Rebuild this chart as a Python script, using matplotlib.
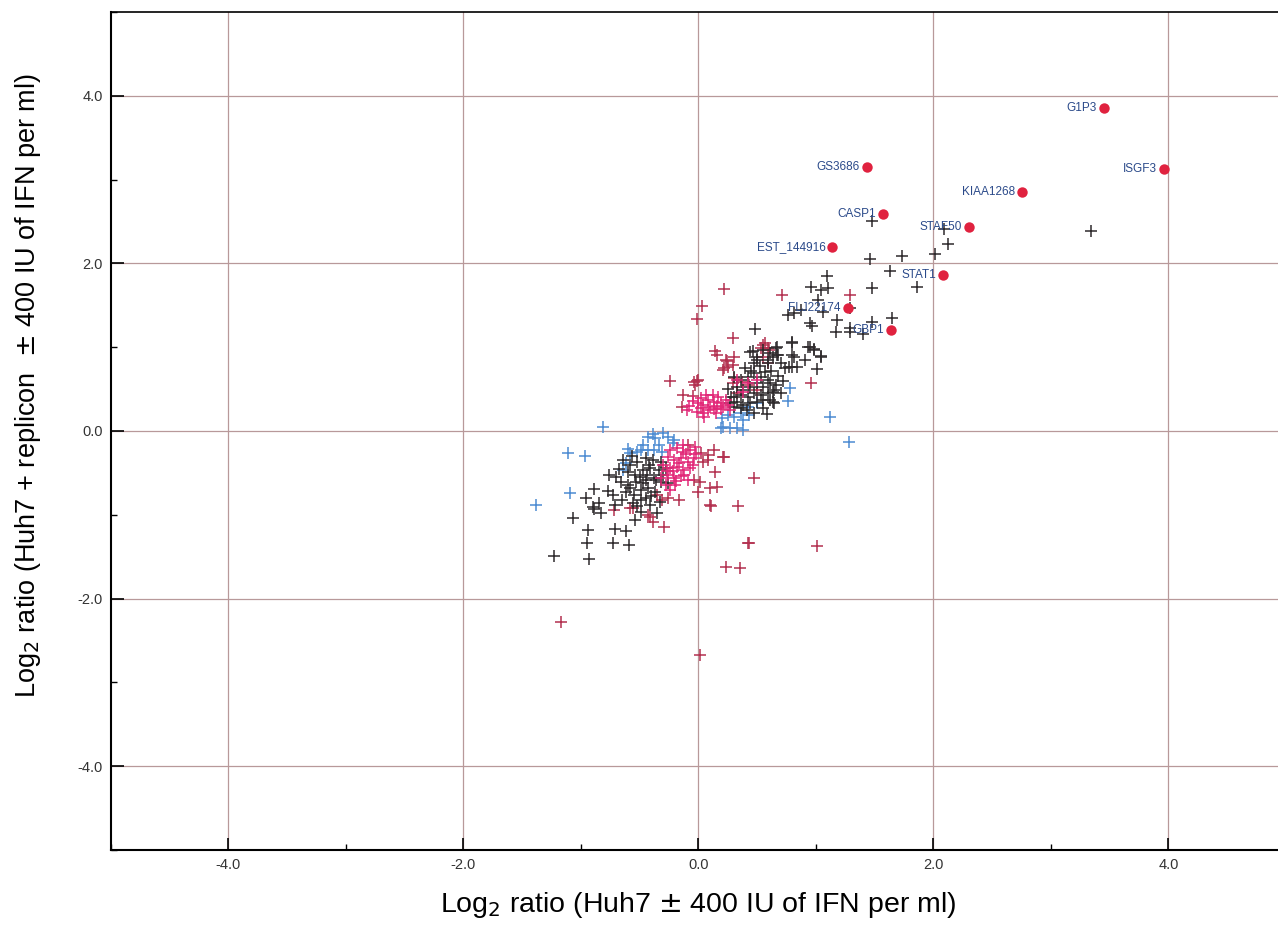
import matplotlib
matplotlib.use('Agg')
import matplotlib.pyplot as plt
from matplotlib.ticker import MultipleLocator

# genes marked with red dots
gene_names = ['G1P3', 'ISGF3', 'GS3686', 'KIAA1268', 'CASP1', 'STAF50',
              'EST_144916', 'STAT1', 'FLJ22174', 'GBP1']
gene_x = [3.45, 3.96, 1.43, 2.75, 1.57, 2.30, 1.14, 2.08, 1.27, 1.64]
gene_y = [3.86, 3.13, 3.15, 2.85, 2.59, 2.44, 2.20, 1.86, 1.47, 1.21]

# black crosses
black_x = [1.48, 2.09, 2.12, 3.34, 1.46, 1.73, 2.01, 1.63, 1.09, 0.96, 1.04, 1.10,
           1.48, 1.86, 1.02, 0.76, 0.81, 0.87, 1.06, 1.29, 1.18, 0.95, 0.97, 1.48,
           1.65, 1.17, 1.29, 1.40, 1.29, 0.48, 0.80, 0.95, 0.98, 1.04, 0.80, 0.68,
           0.46, 0.50, 0.47, 0.59, 0.66, 0.67, 0.70, 0.74, 0.80, 0.81, 0.80,
           0.30, 0.36, 0.42, 0.47, 0.53, 0.59, 0.33, 0.38, 0.44, 0.50, 0.55, 0.61,
           0.30, 0.36, 0.42, 0.47, 0.53, 0.59, 0.63, 0.27, 0.33, 0.38, 0.44, 0.50,
           0.55, 0.63, 0.36, 0.30,
           0.93, 0.98, 1.04, 1.01, 0.91, 0.84, 0.77, 0.67, 0.63,
           0.44, 0.50, 0.55, 0.61, 0.59, 0.64, 0.61, 0.64,
           0.40, 0.45, 0.52, 0.57, 0.62, 0.68, 0.72, 0.66, 0.70, 0.25, 0.28, 0.41,
           0.47, 0.55, 0.58,
           -0.76, -0.89, -0.77, -0.96, -0.85, -0.90, -0.89, -0.83, -1.07,
           -0.94, -0.71, -0.62, -0.95, -0.73, -0.59, -1.23, -0.93,
           -0.64, -0.58, -0.52, -0.45, -0.39, -0.32, -0.60, -0.54, -0.47, -0.41,
           -0.34, -0.28, -0.66, -0.60, -0.53, -0.45, -0.38, -0.32, -0.62, -0.55,
           -0.49, -0.43, -0.37, -0.65, -0.56, -0.49, -0.45, -0.41, -0.35, -0.49,
           -0.54, -0.71, -0.73,
           -0.70, -0.68, -0.57, -0.50, -0.44, -0.36, -0.30, -0.26, -0.40, -0.33,
           -0.58, -0.52, -0.47, -0.42]
black_y = [2.50, 2.41, 2.23, 2.39, 2.05, 2.09, 2.11, 1.91, 1.85, 1.72, 1.68, 1.71,
           1.71, 1.72, 1.56, 1.39, 1.41, 1.44, 1.42, 1.47, 1.33, 1.29, 1.25, 1.30,
           1.35, 1.18, 1.18, 1.16, 1.23, 1.22, 1.05, 1.00, 0.98, 0.90, 0.91, 0.91,
           0.96, 0.85, 0.81, 0.85, 0.99, 0.91, 0.81, 0.75, 0.76, 0.88, 1.06,
           0.64, 0.61, 0.64, 0.69, 0.64, 0.61, 0.53, 0.49, 0.53, 0.57, 0.53, 0.57,
           0.41, 0.43, 0.41, 0.45, 0.43, 0.45, 0.47, 0.33, 0.35, 0.31, 0.33, 0.35,
           0.37, 0.35, 0.27, 0.29,
           1.00, 0.97, 0.88, 0.74, 0.85, 0.76, 0.76, 1.00, 0.88,
           0.94, 0.88, 0.97, 0.93, 0.81, 0.49, 0.37, 0.33,
           0.75, 0.72, 0.78, 0.70, 0.72, 0.66, 0.60, 0.55, 0.45, 0.50, 0.40, 0.25,
           0.22, 0.27, 0.20,
           -0.53, -0.69, -0.72, -0.80, -0.86, -0.91, -0.93, -0.98, -1.04,
           -1.18, -1.17, -1.19, -1.34, -1.34, -1.36, -1.49, -1.53,
           -0.35, -0.41, -0.37, -0.32, -0.35, -0.37, -0.49, -0.53, -0.47, -0.44,
           -0.47, -0.44, -0.61, -0.64, -0.61, -0.59, -0.56, -0.61, -0.73, -0.76,
           -0.70, -0.68, -0.73, -0.82, -0.86, -0.82, -0.80, -0.88, -0.98, -0.97,
           -1.06, -0.88, -0.76,
           -0.55, -0.45, -0.30, -0.55, -0.52, -0.58, -0.52, -0.62, -0.78, -0.85,
           -0.68, -0.90, -0.62, -0.40]

# dark red crosses
darkred_x = [0.71, 1.29, 0.22, 0.03, -0.01, 0.29, 0.96, -0.24, 0.47, 0.34, 0.11,
             0.43, 1.01, -0.29, -0.01, -0.03, -0.13, -0.05, -0.14, 0.14, 0.16,
             0.24, 0.30, 0.22, 0.29, 0.55, 0.59, 0.23, 0.21, 0.25, 0.57, 0.53,
             0.60, 0.55, 0.59, -0.04, 0.00,
             0.30, 0.37, 0.43, 0.50, 0.33, 0.29,
             0.22, 0.14, 0.10, 0.16, 0.10, 0.42, 0.23, 0.35, 0.00, 0.01, -0.04,
             0.08, 0.02, 0.13, -0.17, -0.39, -0.43, -0.56, -0.72, -1.17, 0.01,
             -0.26, -0.31, -0.35, -0.41, 0.04, -0.09, -0.58, 0.21, 0.08]
darkred_y = [1.62, 1.62, 1.70, 1.49, 1.34, 1.11, 0.57, 0.60, -0.56, -0.89, -0.89,
             -1.34, -1.37, -1.15, 0.60, 0.55, 0.43, 0.42, 0.29, 0.96, 0.91,
             0.84, 0.88, 0.75, 0.79, 1.03, 0.99, 0.85, 0.73, 0.76, 1.05, 0.99,
             0.97, 0.88, 0.81, 0.59, 0.61,
             0.63, 0.58, 0.55, 0.49, 0.45, 0.57,
             -0.31, -0.49, -0.68, -0.67, -0.88, -1.34, -1.62, -1.64, -0.73, -0.61,
             -0.59, -0.35, -0.26, -0.23, -0.82, -1.09, -1.00, -0.92, -0.94, -2.28,
             -2.67, -0.80, -0.82, -0.76, -1.03, -0.37, -0.17, -0.92, -0.31, -0.29]

# pink crosses
pink_x = [0.02, 0.08, 0.13, 0.19, 0.04, 0.10, 0.16, 0.21, 0.02, 0.08, 0.13, 0.19,
          0.25, 0.23, 0.17, 0.12, 0.06, 0.04, -0.01, 0.05, 0.33, 0.42, 0.50, 0.38,
          -0.08, -0.05, -0.10, 0.00, 0.15, 0.27,
          -0.24, -0.18, -0.13, -0.07, -0.26, -0.21, -0.15, -0.09, -0.04, -0.30,
          -0.24, -0.18, -0.13, -0.07, -0.26, -0.21, -0.15, -0.09, -0.20, -0.13,
          -0.03, -0.32, -0.28, -0.24,
          -0.11, -0.17, -0.22, -0.05, -0.12, -0.27, -0.19, -0.02]
pink_y = [0.39, 0.37, 0.35, 0.33, 0.31, 0.29, 0.30, 0.29, 0.27, 0.25, 0.26, 0.26,
          0.31, 0.37, 0.41, 0.43, 0.43, 0.21, 0.23, 0.17, 0.61, 0.57, 0.61, 0.47,
          0.30, 0.36, 0.25, 0.33, 0.22, 0.25,
          -0.23, -0.20, -0.25, -0.23, -0.31, -0.35, -0.32, -0.37, -0.32, -0.41,
          -0.44, -0.43, -0.47, -0.44, -0.53, -0.56, -0.54, -0.59, -0.64, -0.17,
          -0.19, -0.56, -0.64, -0.70,
          -0.28, -0.38, -0.48, -0.40, -0.52, -0.48, -0.60, -0.27]

# blue crosses
blue_x = [0.78, 0.76, 1.12, 1.28, -0.81, 0.42, 0.50, 0.36, 0.43, 0.30, 0.38, 0.20,
          0.25, 0.21, 0.27, 0.33, 0.38, 0.19, -1.11, -0.97, -1.09, -1.38,
          -0.39, -0.30, -0.26, -0.21, -0.22, -0.37, -0.43, -0.34, -0.47, -0.49,
          -0.60, -0.58, -0.52, -0.43, -0.38, -0.31, -0.62, -0.64]
blue_y = [0.51, 0.36, 0.17, -0.13, 0.05, 0.29, 0.33, 0.21, 0.19, 0.17, 0.13, 0.16,
          0.19, 0.05, 0.04, 0.04, 0.01, 0.04, -0.26, -0.30, -0.74, -0.88,
          -0.04, -0.02, -0.07, -0.11, -0.14, -0.08, -0.07, -0.17, -0.17, -0.23,
          -0.21, -0.26, -0.25, -0.23, -0.23, -0.25, -0.38, -0.47]

ticks = [-4, -2, 0, 2, 4]
tick_labels = ['-4.0', '-2.0', '0.0', '2.0', '4.0']

fig = plt.figure(figsize=(12.78, 9.36), dpi=100)
ax = fig.add_axes([111 / 1278, 86 / 936, 1175 / 1278, 838 / 936])

cross = dict(marker='+', linestyle='none', markersize=8, markeredgewidth=1.1)
ax.plot(blue_x, blue_y, color='#4d8bd2', **cross)
ax.plot(darkred_x, darkred_y, color='#b3304f', **cross)
ax.plot(black_x, black_y, color='#2e2a2c', **cross)
ax.plot(pink_x, pink_y, color='#e22878', **cross)
ax.plot(gene_x, gene_y, marker='o', linestyle='none', markersize=7.5,
        color='#e0223f', markeredgewidth=0)

for name, gx, gy in zip(gene_names, gene_x, gene_y):
    ax.annotate(name, (gx, gy), xytext=(-5, 0), textcoords='offset points',
                ha='right', va='center', fontsize=8.5, color='#2b4a8a',
                family='Liberation Sans')

ax.set_xlim(-5, 5)
ax.set_ylim(-5, 5)
ax.set_xticks(ticks)
ax.set_xticklabels(tick_labels)
ax.set_yticks(ticks)
ax.set_yticklabels(tick_labels)
ax.xaxis.set_minor_locator(MultipleLocator(1))
ax.yaxis.set_minor_locator(MultipleLocator(1))
ax.tick_params(which='major', direction='in', length=9, width=1.2,
               labelsize=10.5, labelcolor='#333333', pad=6)
ax.tick_params(which='minor', direction='in', length=4, width=1)
for lab in ax.get_xticklabels() + ax.get_yticklabels():
    lab.set_family(['Liberation Sans Narrow', 'Liberation Sans'])

ax.grid(True, which='major', color='#b8999a', linewidth=0.9)
ax.set_axisbelow(True)
for side in ['left', 'bottom']:
    ax.spines[side].set_linewidth(1.5)
ax.spines['top'].set_linewidth(1.2)
ax.spines['right'].set_visible(False)

fig.text(698 / 1278, 1 - 905 / 936, r'Log$_2$ ratio (Huh7 $\pm$ 400 IU of IFN per ml)',
         ha='center', va='center', fontsize=20.5, family='Liberation Sans')
fig.text(28 / 1278, 1 - 386 / 936,
         r'Log$_2$ ratio (Huh7 + replicon  $\pm$ 400 IU of IFN per ml)',
         ha='center', va='center', rotation=90, fontsize=19.5, family='Liberation Sans')

fig.savefig('out.png', dpi=100)
